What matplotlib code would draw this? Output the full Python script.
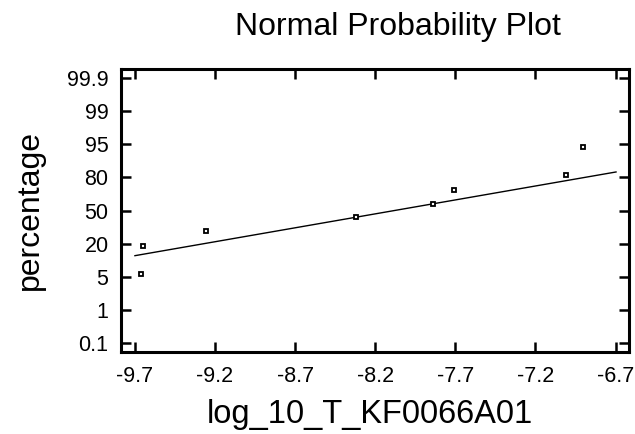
import numpy as np
import matplotlib
matplotlib.use("Agg")
import matplotlib.pyplot as plt

plt.rcParams['font.family'] = ['Liberation Sans', 'DejaVu Sans']

# percentage scale labels, drawn evenly spaced (as in the original probability paper)
pct_ticks = [0.1, 1, 5, 20, 50, 80, 95, 99, 99.9]
x_ticks = [-9.7, -9.2, -8.7, -8.2, -7.7, -7.2, -6.7]

# observations (log10 values) and their plotting positions (%)
x_obs = [-9.661, -9.652, -9.259, -8.320, -7.842, -7.709, -7.010, -6.902]
pct_obs = [6.25, 18.75, 31.25, 43.75, 56.25, 68.75, 81.25, 93.75]

# fitted reference line end points
x_line = [-9.70, -6.697]
pct_line = [14.6, 82.4]


def to_pos(p):
    return np.interp(p, pct_ticks, np.arange(len(pct_ticks)))


fig = plt.figure(figsize=(6.35, 4.34), dpi=100)
ax = fig.add_axes([121 / 635, 1 - 352 / 434, (629 - 121) / 635, (352 - 69) / 434])

ax.plot(x_line, to_pos(pct_line), color="black", lw=1.0, zorder=2)
ax.plot(x_obs, to_pos(pct_obs), ls="none", marker="s", ms=3.3, mfc="white",
        mec="black", mew=1.3, zorder=3)

ax.set_xlim(-9.787, -6.616)
ax.set_ylim(-0.26, 8.26)
ax.set_xticks(x_ticks)
ax.set_xticklabels([f"{v:.1f}" for v in x_ticks])
ax.set_yticks(np.arange(len(pct_ticks)))
ax.set_yticklabels([f"{p:g}" for p in pct_ticks])

for s in ax.spines.values():
    s.set_linewidth(2.2)
ax.tick_params(direction="in", length=7, width=1.8, labelsize=15.5,
               top=True, right=True, pad=9)
ax.tick_params(axis="x", pad=10)

fig.text(398 / 635, 1 - 35 / 434, "Normal Probability Plot", fontsize=23,
         ha="center", va="baseline")
fig.text(370 / 635, 1 - 423 / 434, "log_10_T_KF0066A01", fontsize=23.5,
         ha="center", va="baseline")
fig.text(30 / 635, 1 - 210 / 434, "percentage", fontsize=23, rotation=90,
         ha="center", va="center")

fig.savefig("out.png", dpi=100)
